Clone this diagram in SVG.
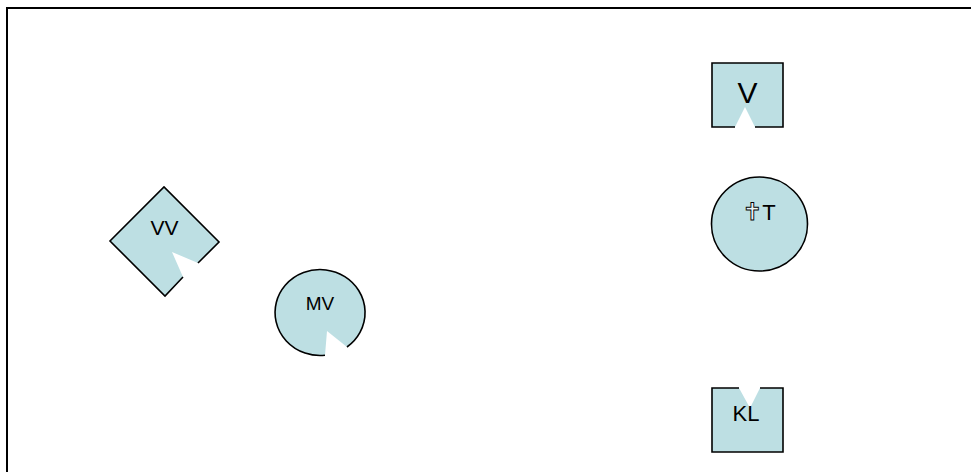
<svg xmlns="http://www.w3.org/2000/svg" width="971" height="472" viewBox="0 0 971 472">
<style>
.fill{fill:#bddfe3;stroke:none}
.edge{fill:none;stroke:#000;stroke-width:1.6;stroke-linejoin:miter}
.lbl{font-family:"Liberation Sans","DejaVu Sans",Arial,sans-serif;fill:#000;text-anchor:middle}
.sym{font-family:"DejaVu Sans",sans-serif;fill:#eef7f8;stroke:#000;stroke-width:0.9}
</style>
<rect x="0" y="0" width="971" height="472" fill="#fff"/>
<rect id="frame" x="7" y="8" width="1000" height="500" fill="none" stroke="#000" stroke-width="2"/>
<g id="connectors"></g>
<g id="node-VV">
<polygon class="fill" points="164,187 219,242 198,263 172,252 183,277 165,296 110,241"/>
<path class="edge" d="M198,263 L219,242 L164,187 L110,241 L165,296 L183,277"/>
<text class="lbl" x="164.5" y="235" font-size="21">VV</text>
</g>
<g id="node-MV">
<path class="fill" d="M347,347 A45,43 0 1 0 325,355.3 L327,331 Z"/>
<path class="edge" d="M347,347 A45,43 0 1 0 325,355.3"/>
<text class="lbl" x="320" y="310" font-size="19">MV</text>
</g>
<g id="node-V">
<polygon class="fill" points="712,63 783,63 783,127 755,127 745,107 735,127 712,127"/>
<path class="edge" d="M735,127 L712,127 L712,63 L783,63 L783,127 L755,127"/>
<text class="lbl" x="747.5" y="103" font-size="30">V</text>
</g>
<g id="node-T">
<ellipse class="fill" cx="759.5" cy="224" rx="48" ry="47"/>
<ellipse class="edge" cx="759.5" cy="224" rx="48" ry="47"/>
<text class="lbl" x="759" y="220" font-size="22"><tspan class="sym" font-size="24">✝</tspan>T</text>
</g>
<g id="node-KL">
<polygon class="fill" points="712,388 739,388 750,408 760,388 783,388 783,452 712,452"/>
<path class="edge" d="M739,388 L712,388 L712,452 L783,452 L783,388 L760,388"/>
<text class="lbl" x="746" y="421" font-size="22">KL</text>
</g>
</svg>
